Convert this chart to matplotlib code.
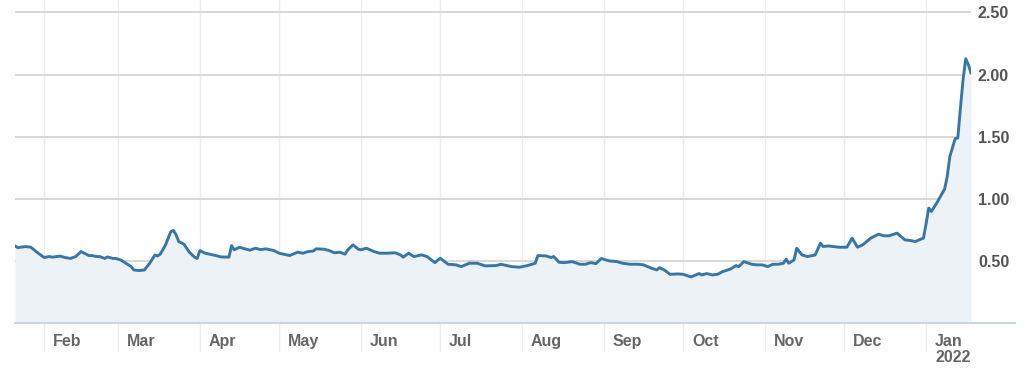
import matplotlib
matplotlib.use("Agg")
import matplotlib.pyplot as plt
import matplotlib.dates as mdates
import pandas as pd

plt.rcParams["font.family"] = ["Liberation Sans", "DejaVu Sans"]

# price series
dates = [
    "2021-01-21", "2021-01-22", "2021-01-25", "2021-01-27", "2021-01-29",
    "2021-02-01", "2021-02-03", "2021-02-04", "2021-02-07", "2021-02-09",
    "2021-02-11", "2021-02-13", "2021-02-15", "2021-02-18", "2021-02-19",
    "2021-02-21", "2021-02-22", "2021-02-24", "2021-02-25", "2021-02-27",
    "2021-02-28", "2021-03-02", "2021-03-04", "2021-03-06", "2021-03-07",
    "2021-03-09", "2021-03-11", "2021-03-13", "2021-03-15", "2021-03-16",
    "2021-03-17", "2021-03-19", "2021-03-21", "2021-03-22", "2021-03-23",
    "2021-03-24", "2021-03-26", "2021-03-28", "2021-03-30", "2021-03-31",
    "2021-04-01", "2021-04-03", "2021-04-07", "2021-04-09", "2021-04-12",
    "2021-04-13", "2021-04-14", "2021-04-16", "2021-04-18", "2021-04-20",
    "2021-04-22", "2021-04-24", "2021-04-26", "2021-04-29", "2021-05-01",
    "2021-05-05", "2021-05-08", "2021-05-10", "2021-05-12", "2021-05-14",
    "2021-05-15", "2021-05-18", "2021-05-20", "2021-05-22", "2021-05-24",
    "2021-05-26", "2021-05-27", "2021-05-29", "2021-05-31", "2021-06-01",
    "2021-06-03", "2021-06-06", "2021-06-08", "2021-06-11", "2021-06-14",
    "2021-06-16", "2021-06-17", "2021-06-19", "2021-06-21", "2021-06-24",
    "2021-06-26", "2021-06-29", "2021-07-01", "2021-07-04", "2021-07-07",
    "2021-07-09", "2021-07-12", "2021-07-15", "2021-07-18", "2021-07-22",
    "2021-07-24", "2021-07-28", "2021-07-31", "2021-08-03", "2021-08-06",
    "2021-08-07", "2021-08-10", "2021-08-12", "2021-08-13", "2021-08-15",
    "2021-08-17", "2021-08-20", "2021-08-23", "2021-08-25", "2021-08-27",
    "2021-08-29", "2021-08-31", "2021-09-03", "2021-09-06", "2021-09-08",
    "2021-09-11", "2021-09-14", "2021-09-16", "2021-09-19", "2021-09-21",
    "2021-09-22", "2021-09-24", "2021-09-26", "2021-09-29", "2021-10-01",
    "2021-10-04", "2021-10-07", "2021-10-08", "2021-10-10", "2021-10-12",
    "2021-10-14", "2021-10-16", "2021-10-19", "2021-10-21", "2021-10-22",
    "2021-10-24", "2021-10-27", "2021-10-29", "2021-10-31", "2021-11-02",
    "2021-11-04", "2021-11-06", "2021-11-08", "2021-11-09", "2021-11-10",
    "2021-11-12", "2021-11-13", "2021-11-15", "2021-11-17", "2021-11-19",
    "2021-11-20", "2021-11-22", "2021-11-23", "2021-11-25", "2021-11-29",
    "2021-12-02", "2021-12-04", "2021-12-06", "2021-12-08", "2021-12-11",
    "2021-12-14", "2021-12-16", "2021-12-18", "2021-12-21", "2021-12-24",
    "2021-12-26", "2021-12-28", "2021-12-30", "2021-12-31", "2022-01-01",
    "2022-01-02", "2022-01-03", "2022-01-05", "2022-01-07", "2022-01-08",
    "2022-01-09", "2022-01-10", "2022-01-12", "2022-01-13", "2022-01-14",
    "2022-01-15", "2022-01-16", "2022-01-17", "2022-01-18",
]
values = [
    0.62, 0.607, 0.615, 0.61, 0.575,
    0.527, 0.535, 0.53, 0.538, 0.527,
    0.52, 0.535, 0.575, 0.543, 0.543,
    0.535, 0.535, 0.52, 0.532, 0.52,
    0.52, 0.508, 0.481, 0.454, 0.427,
    0.422, 0.427, 0.481, 0.548, 0.54,
    0.554, 0.629, 0.736, 0.745, 0.71,
    0.656, 0.634, 0.57, 0.53, 0.52,
    0.583, 0.562, 0.543, 0.532, 0.53,
    0.623, 0.589, 0.61, 0.597, 0.586,
    0.602, 0.591, 0.597, 0.583, 0.562,
    0.543, 0.57, 0.562, 0.575, 0.58,
    0.597, 0.594, 0.583, 0.565, 0.57,
    0.554, 0.589, 0.629, 0.594, 0.589,
    0.602, 0.575, 0.562, 0.562, 0.565,
    0.548, 0.53, 0.562, 0.535, 0.548,
    0.535, 0.486, 0.521, 0.473, 0.468,
    0.454, 0.481, 0.481, 0.46, 0.462,
    0.473, 0.454, 0.449, 0.462, 0.481,
    0.543, 0.54, 0.527, 0.535, 0.489,
    0.486, 0.494, 0.473, 0.473, 0.486,
    0.478, 0.519, 0.5, 0.494, 0.481,
    0.473, 0.473, 0.468, 0.441, 0.427,
    0.446, 0.425, 0.392, 0.395, 0.392,
    0.371, 0.398, 0.387, 0.398, 0.387,
    0.392, 0.414, 0.435, 0.462, 0.454,
    0.494, 0.473, 0.468, 0.468, 0.454,
    0.473, 0.473, 0.481, 0.514, 0.481,
    0.508, 0.602, 0.548, 0.535, 0.543,
    0.548, 0.643, 0.616, 0.62, 0.61,
    0.61, 0.683, 0.61, 0.629, 0.683,
    0.715, 0.702, 0.702, 0.723, 0.669,
    0.664, 0.656, 0.675, 0.683, 0.80,
    0.925, 0.898, 0.965, 1.04, 1.078,
    1.18, 1.341, 1.484, 1.489, 1.731,
    1.96, 2.127, 2.08, 2.013,
]

month_ticks = [
    "2021-02-01", "2021-03-01", "2021-04-01", "2021-05-01", "2021-06-01",
    "2021-07-01", "2021-08-01", "2021-09-01", "2021-10-01", "2021-11-01",
    "2021-12-01", "2022-01-01",
]
month_labels = ["Feb", "Mar", "Apr", "May", "Jun", "Jul", "Aug", "Sep",
                "Oct", "Nov", "Dec", "Jan\n2022"]
y_ticks = [0.5, 1.0, 1.5, 2.0, 2.5]

LINE = "#3677a8"
FILL = "#edf2f6"
GRID = "#d6d6d6"
VGRID = "#ececec"
TEXT = "#666666"

fig = plt.figure(figsize=(10.24, 3.85), dpi=100)
ax = fig.add_axes([15 / 1024, 62 / 385, (971 - 15) / 1024, 323 / 385])

x = mdates.date2num(pd.to_datetime(dates))
ax.fill_between(x, values, 0, color=FILL, lw=0, zorder=1)
ax.plot(x, values, color=LINE, lw=2.1, solid_joinstyle="round", zorder=3)

ax.set_xlim(x[0], x[-1])
ax.set_ylim(0, 2.6)
for s in ax.spines.values():
    s.set_visible(False)

# right-hand value axis
ax.yaxis.tick_right()
ax.set_yticks(y_ticks)
ax.set_yticklabels([f"{v:.2f}" for v in y_ticks], fontweight="bold")
ax.tick_params(axis="y", length=0, pad=5, labelsize=11.5, labelcolor="#555555")
ax.grid(axis="y", color=GRID, lw=1.3, zorder=0)

# month gridlines run down past the baseline
ticks = mdates.date2num(pd.to_datetime(month_ticks))
ax.set_xticks(ticks)
ax.set_xticklabels([])
ax.tick_params(axis="x", length=21, width=1, color=VGRID, direction="out")
ax.grid(axis="x", color=VGRID, lw=1, zorder=0)
ax.set_axisbelow(True)

for t, lbl in zip(ticks, month_labels):
    ax.annotate(lbl, xy=(t, 0), xycoords=ax.get_xaxis_transform(),
                xytext=(6.5, -8), textcoords="offset points",
                ha="left", va="top", fontsize=11.5, fontweight="bold",
                color=TEXT, linespacing=1.05)

# baseline extends under the value labels
ax.plot([0, 1.046], [0, 0], transform=ax.transAxes, clip_on=False,
        color="#c9d5de", lw=1.5, zorder=4)

fig.savefig("out.png", dpi=100)
